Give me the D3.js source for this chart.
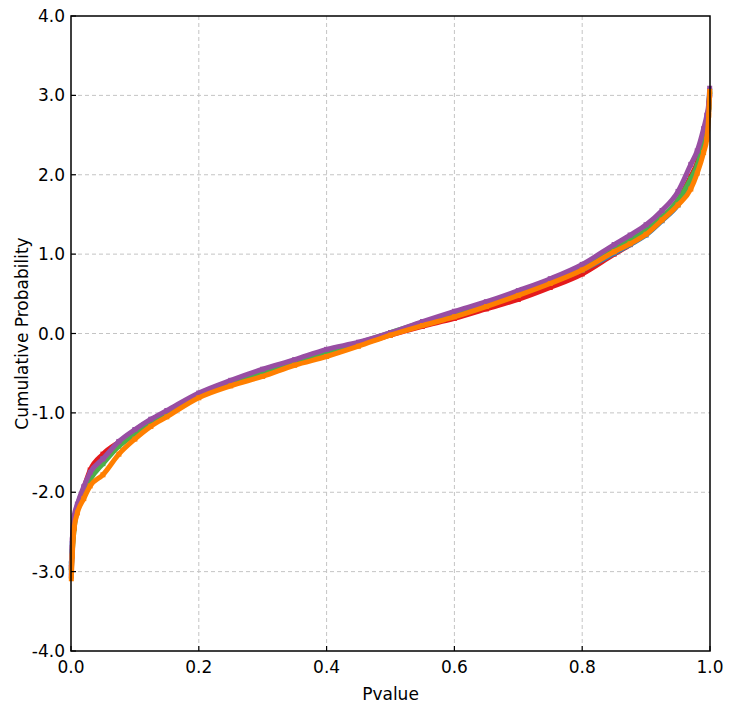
<!DOCTYPE html>
<html><head><meta charset="utf-8">
<script src="https://cdn.jsdelivr.net/npm/d3@7"></script>
<style>body{margin:0;background:#fff;} svg{display:block;}</style>
</head><body>
<svg id="chart" width="737" height="721"></svg>
<script>
const xTicks = [0.0, 0.2, 0.4, 0.6, 0.8, 1.0];
const yTicks = [-4, -3, -2, -1, 0, 1, 2, 3, 4];
const pvalue = [0.0005, 0.002, 0.005, 0.01, 0.02, 0.03, 0.05, 0.075, 0.1, 0.125, 0.15, 0.2, 0.25, 0.3, 0.35, 0.4, 0.45, 0.5, 0.55, 0.6, 0.65, 0.7, 0.75, 0.8, 0.85, 0.875, 0.9, 0.925, 0.95, 0.97, 0.98, 0.99, 0.995, 0.998, 0.9995];
const seriesNames = ["red", "blue", "green", "purple", "orange"];
const seriesColors = ["#e41a1c", "#377eb8", "#4daf4a", "#984ea3", "#ff7f00"];
const redValues = [-2.95, -2.7, -2.42, -2.2, -1.95, -1.72, -1.52, -1.37, -1.25, -1.12, -1.01, -0.78, -0.62, -0.50, -0.37, -0.25, -0.14, -0.02, 0.09, 0.19, 0.31, 0.43, 0.58, 0.75, 1.00, 1.12, 1.27, 1.45, 1.68, 1.98, 2.15, 2.42, 2.62, 2.85, 3.0];
const blueValues = [-2.9, -2.65, -2.38, -2.17, -1.96, -1.78, -1.58, -1.38, -1.22, -1.09, -0.99, -0.77, -0.61, -0.48, -0.36, -0.23, -0.12, -0.01, 0.12, 0.22, 0.35, 0.49, 0.64, 0.80, 1.01, 1.12, 1.24, 1.42, 1.62, 1.90, 2.08, 2.38, 2.6, 2.82, 3.02];
const greenValues = [-2.98, -2.75, -2.45, -2.22, -2.0, -1.84, -1.64, -1.42, -1.27, -1.13, -1.02, -0.78, -0.63, -0.48, -0.35, -0.23, -0.12, 0.01, 0.14, 0.25, 0.38, 0.51, 0.67, 0.84, 1.06, 1.18, 1.30, 1.47, 1.68, 1.95, 2.12, 2.40, 2.6, 2.85, 3.05];
const purpleValues = [-3.05, -2.6, -2.3, -2.15, -1.93, -1.75, -1.58, -1.36, -1.21, -1.08, -0.97, -0.75, -0.59, -0.45, -0.33, -0.20, -0.11, 0.01, 0.15, 0.28, 0.40, 0.54, 0.69, 0.87, 1.12, 1.24, 1.37, 1.55, 1.79, 2.13, 2.30, 2.58, 2.75, 2.9, 3.09];
const orangeValues = [-3.09, -2.8, -2.45, -2.26, -2.08, -1.92, -1.78, -1.52, -1.33, -1.17, -1.05, -0.81, -0.66, -0.54, -0.40, -0.29, -0.16, -0.02, 0.10, 0.21, 0.34, 0.48, 0.63, 0.80, 1.03, 1.13, 1.25, 1.43, 1.62, 1.82, 2.02, 2.28, 2.45, 2.75, 3.05];
const seriesValues = [redValues, blueValues, greenValues, purpleValues, orangeValues];

const svg = d3.select("#chart");
const L = 71, R = 710, T = 16, B = 651;
const x = d3.scaleLinear().domain([0, 1]).range([L, R]);
const y = d3.scaleLinear().domain([-4, 4]).range([B, T]);
const font = "DejaVu Sans, Verdana, sans-serif";
const fmt = d => d.toFixed(1);

// grid
svg.append("g").selectAll("line").data(xTicks.slice(1, -1)).join("line")
  .attr("x1", d => x(d)).attr("x2", d => x(d)).attr("y1", T).attr("y2", B)
  .attr("stroke", "#c4c4c4").attr("stroke-width", 1).attr("stroke-dasharray", "4,3");
svg.append("g").selectAll("line").data(yTicks.slice(1, -1)).join("line")
  .attr("y1", d => y(d)).attr("y2", d => y(d)).attr("x1", L).attr("x2", R)
  .attr("stroke", "#c4c4c4").attr("stroke-width", 1).attr("stroke-dasharray", "4,3");

// series
svg.append("clipPath").attr("id", "clip").append("rect")
  .attr("x", L - 3).attr("y", T).attr("width", R - L + 6).attr("height", B - T);
const line = d3.line().x(d => x(d[0])).y(d => y(d[1])).curve(d3.curveMonotoneX);
const gS = svg.append("g").attr("clip-path", "url(#clip)");
seriesValues.forEach((vals, i) => {
  const pts = pvalue.map((p, j) => [p, vals[j]]);
  gS.append("path").datum(pts).attr("d", line).attr("fill", "none")
    .attr("stroke", seriesColors[i]).attr("stroke-width", 5).attr("stroke-linejoin", "miter");
  gS.append("g").selectAll("rect").data(pts).join("rect")
    .attr("x", d => x(d[0]) - 2.5).attr("y", d => y(d[1]) - 2.5)
    .attr("width", 5).attr("height", 5).attr("fill", seriesColors[i]);
});

// frame
svg.append("rect").attr("x", L).attr("y", T).attr("width", R - L).attr("height", B - T)
  .attr("fill", "none").attr("stroke", "#000").attr("stroke-width", 1.5);

// ticks inward
svg.append("g").selectAll("line").data(xTicks).join("line")
  .attr("x1", d => x(d)).attr("x2", d => x(d)).attr("y1", B).attr("y2", B - 5)
  .attr("stroke", "#000").attr("stroke-width", 1.2);
svg.append("g").selectAll("line").data(yTicks).join("line")
  .attr("y1", d => y(d)).attr("y2", d => y(d)).attr("x1", L).attr("x2", L + 5)
  .attr("stroke", "#000").attr("stroke-width", 1.2);

// tick labels
svg.append("g").selectAll("text").data(xTicks).join("text")
  .attr("x", d => x(d)).attr("y", B + 22).attr("text-anchor", "middle")
  .attr("font-family", font).attr("font-size", 17).attr("fill", "#000")
  .text(fmt);
svg.append("g").selectAll("text").data(yTicks).join("text")
  .attr("x", L - 6).attr("y", d => y(d) + 6).attr("text-anchor", "end")
  .attr("font-family", font).attr("font-size", 17).attr("fill", "#000")
  .text(fmt);

// titles
svg.append("text").attr("x", (L + R) / 2).attr("y", 700).attr("text-anchor", "middle")
  .attr("font-family", font).attr("font-size", 17).attr("fill", "#000").text("Pvalue");
svg.append("text").attr("transform", `translate(28,${(T + B) / 2}) rotate(-90)`)
  .attr("text-anchor", "middle")
  .attr("font-family", font).attr("font-size", 17).attr("fill", "#000").text("Cumulative Probability");
</script>
</body></html>
